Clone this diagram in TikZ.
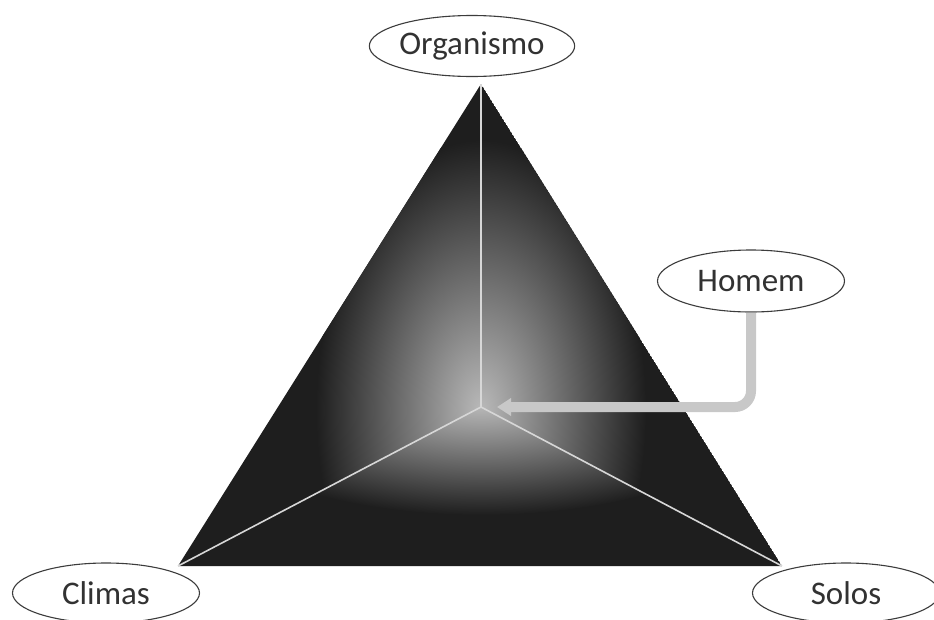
\documentclass[tikz,border=0pt]{standalone}
\usepackage{fontspec}
\setmainfont{Carlito}
\usetikzlibrary{shapes.geometric,arrows.meta}
\definecolor{facedark}{RGB}{30,30,30}
\definecolor{facelight}{RGB}{185,185,185}
\definecolor{rimline}{RGB}{60,60,60}
\definecolor{labeltext}{RGB}{50,50,50}
\definecolor{linkgray}{RGB}{200,200,200}
\definecolor{spoke}{RGB}{215,215,215}
\tikzset{
  lbl/.style={ellipse, draw=rimline, line width=1.1pt, fill=white, text=labeltext,
    inner sep=0pt, font=\fontsize{33}{34}\selectfont},
  spokeline/.style={draw=spoke, line width=1.6pt},
  link/.style={draw=linkgray, line width=10pt, rounded corners=16pt,
    -{Triangle[width=17pt,length=14pt]}}
}
\begin{document}
\begin{tikzpicture}[x=1pt,y=-1pt]
\useasboundingbox (0,0) rectangle (934,619);
\fill[white] (0,0) rectangle (934,619);
\coordinate (top) at (481,84);
\coordinate (bl) at (178,566);
\coordinate (br) at (782,566);
\coordinate (c) at (481,407);
\coordinate (tip) at (497,407);
% upper faces
\begin{scope}
  \clip (top) -- (br) -- (c) -- (bl) -- cycle;
  \fill[facedark] (top) -- (br) -- (bl) -- cycle;
  \shade[inner color=facelight, outer color=facedark] (481,410) ellipse (165 and 270);
\end{scope}
% bottom face
\begin{scope}
  \clip (c) -- (br) -- (bl) -- cycle;
  \fill[facedark] (c) -- (br) -- (bl) -- cycle;
  \shade[inner color=facelight!90!white, outer color=facedark] (481,400) ellipse (290 and 115);
\end{scope}
% spokes
\draw[spokeline] (c) -- (top);
\draw[spokeline] (c) -- (bl);
\draw[spokeline] (c) -- (br);
% labels
\node[lbl, minimum width=168pt, minimum height=61pt] (org) at (472,46) {Organismo};
\node[lbl, minimum width=187pt, minimum height=62pt] (hom) at (751,281) {Homem};
\node[lbl, minimum width=187pt, minimum height=60pt] (cli) at (106,593) {Climas};
\node[lbl, minimum width=187pt, minimum height=60pt] (sol) at (846,593) {Solos};
% connector
\draw[link] (hom.south) |- (tip);
\end{tikzpicture}
\end{document}
